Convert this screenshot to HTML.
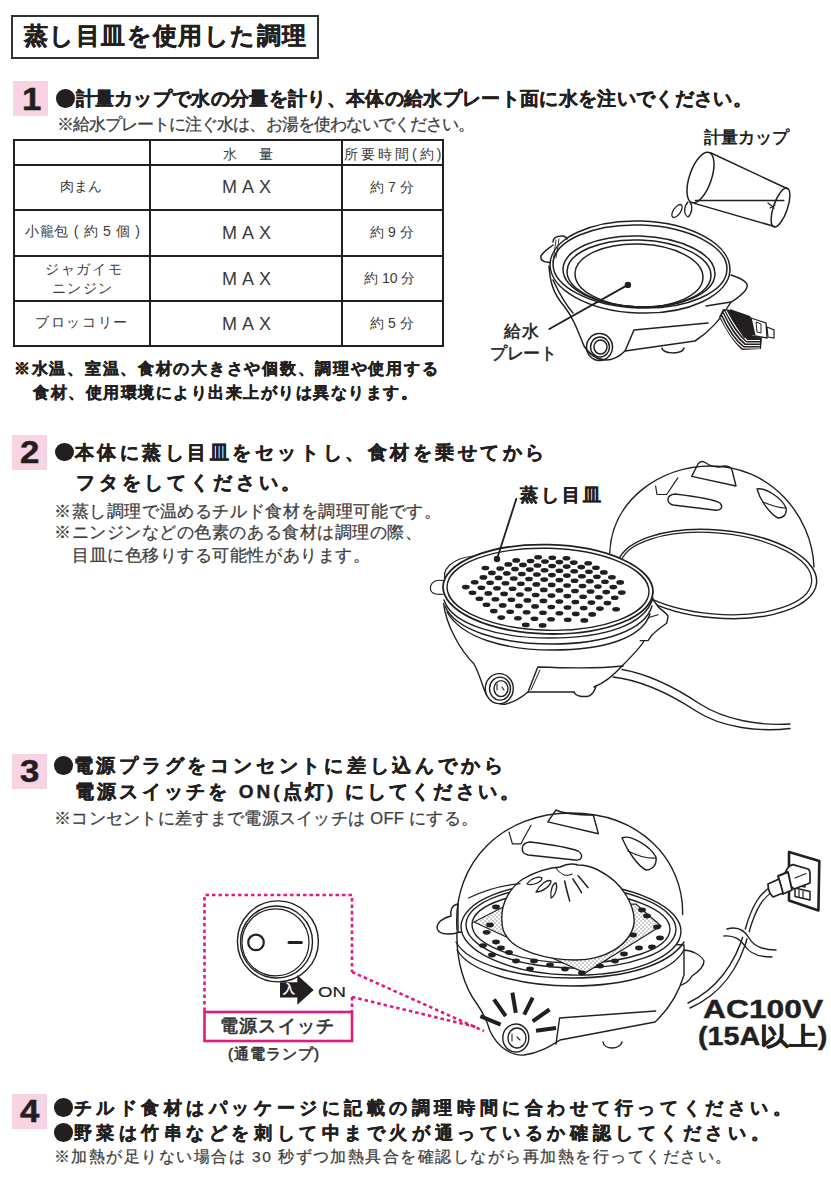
<!DOCTYPE html>
<html><head><meta charset="utf-8">
<style>
html,body{margin:0;padding:0;background:#fff;}
body{width:831px;height:1200px;position:relative;overflow:hidden;font-family:"Liberation Sans",sans-serif;color:#231f20;}
.a{position:absolute;white-space:nowrap;line-height:1;}
.b{font-weight:bold;-webkit-text-stroke:0.4px #231f20;}
.pk{position:absolute;width:35px;height:35px;background:#f8d3e4;}
.num{position:absolute;font-weight:bold;font-size:31px;line-height:1;transform:scaleX(1.12);transform-origin:0 0;-webkit-text-stroke:0.5px #231f20;}
.note{color:#3d3d3d;font-size:16.5px;-webkit-text-stroke:0.25px #3d3d3d;}
.dot{display:inline-block;width:18.5px;height:18.5px;border-radius:50%;background:#231f20;vertical-align:-2.5px;margin-right:1px;}
.tb{position:absolute;background:#231f20;}
.c{position:absolute;white-space:nowrap;line-height:1;color:#3a3a3a;font-size:14px;text-align:center;}
</style></head><body>
<!-- title -->
<div style="position:absolute;left:11px;top:15px;width:304px;height:40px;border:2px solid #333;"></div>
<div class="a b" id="t0" style="left:24px;top:24px;font-size:24px;letter-spacing:1.4px;">蒸し目皿を使用した調理</div>

<!-- step1 -->
<div class="pk" style="left:13px;top:81px;"></div>
<div class="num" style="left:22px;top:83.5px;">1</div>
<div class="a b" id="s1a" style="left:56px;top:89px;font-size:19px;letter-spacing:0.33px;"><span class="dot"></span>計量カップで水の分量を計り、本体の給水プレート面に水を注いでください。</div>
<div class="a note" id="s1n" style="left:57px;top:116px;letter-spacing:-0.96px;">※給水プレートに注ぐ水は、お湯を使わないでください。</div>

<!-- table -->
<div class="tb" style="left:13px;top:139px;width:431px;height:2px;"></div>
<div class="tb" style="left:13px;top:164px;width:431px;height:2px;"></div>
<div class="tb" style="left:13px;top:209px;width:431px;height:2px;"></div>
<div class="tb" style="left:13px;top:255px;width:431px;height:2px;"></div>
<div class="tb" style="left:13px;top:300px;width:431px;height:2px;"></div>
<div class="tb" style="left:13px;top:345px;width:431px;height:2px;"></div>
<div class="tb" style="left:13px;top:139px;width:2px;height:208px;"></div>
<div class="tb" style="left:149px;top:139px;width:2px;height:208px;"></div>
<div class="tb" style="left:341px;top:139px;width:2px;height:208px;"></div>
<div class="tb" style="left:442px;top:139px;width:2px;height:208px;"></div>

<div class="a c" id="tw" style="left:223px;top:147px;letter-spacing:4px;">水　量</div>
<div class="a c" id="tt" style="left:344px;top:147px;letter-spacing:3px;">所要時間(約)</div>

<div class="a c" style="left:60px;top:179px;">肉まん</div>
<div class="a c" style="left:25px;top:224px;letter-spacing:0.7px;">小籠包 ( 約 5 個 )</div>
<div class="a c" style="left:45px;top:262px;letter-spacing:1.7px;">ジャガイモ</div>
<div class="a c" style="left:52px;top:281px;letter-spacing:1.4px;">ニンジン</div>
<div class="a c" style="left:35px;top:315px;letter-spacing:1.7px;">ブロッコリー</div>

<div class="a c" style="left:222px;top:178px;font-size:18px;letter-spacing:5px;">MAX</div>
<div class="a c" style="left:222px;top:224px;font-size:18px;letter-spacing:5px;">MAX</div>
<div class="a c" style="left:222px;top:270px;font-size:18px;letter-spacing:5px;">MAX</div>
<div class="a c" style="left:222px;top:315px;font-size:18px;letter-spacing:5px;">MAX</div>

<div class="a c" style="left:370px;top:180px;">約 7 分</div>
<div class="a c" style="left:370px;top:225px;">約 9 分</div>
<div class="a c" style="left:364px;top:271px;">約 10 分</div>
<div class="a c" style="left:370px;top:316px;">約 5 分</div>

<div class="a b" id="n1" style="left:14px;top:361px;font-size:16px;letter-spacing:1.72px;">※水温、室温、食材の大きさや個数、調理や使用する</div>
<div class="a b" id="n2" style="left:33px;top:385px;font-size:16px;letter-spacing:1.5px;">食材、使用環境により出来上がりは異なります。</div>


<!-- illus1 -->
<svg style="position:absolute;left:0;top:0" width="831" height="1200" viewBox="0 0 831 1200">
<g fill="none" stroke="#231f20" stroke-width="1.5" stroke-linecap="round" stroke-linejoin="round">
 <!-- cup -->
 <ellipse cx="700.5" cy="177.5" rx="11" ry="26.5" transform="rotate(19 700.5 177.5)"/>
 <ellipse cx="780.5" cy="207.5" rx="7" ry="20.5" transform="rotate(19 780.5 207.5)"/>
 <path d="M710.5,152.8 L788,189 M694.5,203.4 L774.6,226.5 M695.4,200.5 L783.8,200.5"/>
 <path d="M768,203 l6,5 M770,208 l5,-3" stroke-width="1.2"/>
 <ellipse cx="677" cy="211" rx="3.5" ry="7.5" transform="rotate(35 677 211)" stroke-width="1.3"/>
 <path d="M688,202 C684,206 683,214 688,217 C692,214 693,206 690,202" stroke-width="1.3"/>
 <!-- pot rims -->
 <ellipse cx="640" cy="267" rx="90" ry="46" transform="rotate(2 640 267)"/>
 <ellipse cx="640" cy="266.5" rx="87" ry="41.5" transform="rotate(2 640 266.5)"/>
 <ellipse cx="639" cy="271.5" rx="76" ry="35.5" transform="rotate(2 639 271.5)"/>
 <ellipse cx="639" cy="273.5" rx="72" ry="33.5" transform="rotate(2 639 273.5)"/>
 <ellipse cx="639" cy="275.5" rx="64" ry="31.5" transform="rotate(2 639 275.5)"/>
 <!-- handles -->
 <path d="M553,242 C553,238 557,236 562,236 C565,236 567,238 567,239 M553,245 C548,249 543,252 541,256 C540,260 543,262 550,262.5"/>
 <path d="M556,240 L553,262 M559,239 L556,258" stroke-width="0.9"/>
 <path d="M731,275 C737,277 745,280 747,284 C748,288 746,290 744,292 C740,296 735,300 731,302 L706,306"/>
 <!-- body -->
 <path d="M549,266 C550,280 552,292 564,306 C572,316 576,326 584,346 C590,355 598,360 606,360 C614,360 620,356 625,351 L695,341 C712,330 722,318 731,302"/>
 <path d="M553,280 C560,295 566,305 573,313"/>
 <path d="M625,351 L634,330 L708,323"/>
 <path d="M662,348 C662,354 682,355 684,348"/>
 <!-- switch -->
 <ellipse cx="599.5" cy="347" rx="13" ry="13.5"/>
 <ellipse cx="600" cy="347" rx="9.5" ry="10"/>
 <ellipse cx="600.5" cy="347" rx="6.5" ry="7"/>
 <!-- leader -->
 <path d="M549.3,329 L627.9,284.9" stroke-width="1.8"/>
 <!-- cord -->
</g>
<path d="M719,317 L723,309 L731,310 L748,334 L762,338 L761,349 L742,350 C733,342 726,330 719,317 Z" fill="#231f20"/>
<g fill="none" stroke="#fff" stroke-width="1.1">
 <path d="M721,317 C727,330 734,341 743,348 L760,348"/>
 <path d="M722.5,314 C728.5,327 735.5,339 744.5,345.5 L760,345.5"/>
 <path d="M724,311.5 C730,324 737,336 746,343 L760,343"/>
 <path d="M726,310.5 C732,322 739,333 747,340.5 L760,340.5"/>
</g>
<g>
<circle cx="627.9" cy="284.9" r="3.2" fill="#231f20"/>
<path d="M730,309 L750,316 L757,334 L744,338 C738,330 734,320 730,309 Z" fill="#231f20"/>
<path d="M751,318 L766,323 L767,338 L755,336 Z" fill="#fff" stroke="#231f20" stroke-width="1.3"/>
<path d="M756,322 L761,324 L761,333 L757,332 Z" fill="#fff" stroke="#231f20" stroke-width="1"/>
<path d="M767,327 L774,330 L774,338 L768,337 Z" fill="#fff" stroke="#231f20" stroke-width="1.2"/>
</svg>
<div class="a" id="lbl_cup" style="left:704px;top:129px;font-size:17px;font-weight:bold;">計量カップ</div>
<div class="a" id="lbl_k1" style="left:504px;top:323px;font-size:17px;letter-spacing:1px;-webkit-text-stroke:0.5px #231f20;">給水</div>
<div class="a" id="lbl_k2" style="left:490px;top:345px;font-size:17px;letter-spacing:-0.5px;-webkit-text-stroke:0.5px #231f20;">プレート</div>

<!-- step2 -->
<div class="pk" style="left:12px;top:435px;"></div>
<div class="num" style="left:20px;top:437.3px;">2</div>
<div class="a b" id="s2a" style="left:55px;top:442.5px;font-size:19px;letter-spacing:3.55px;"><span class="dot"></span>本体に蒸し目皿をセットし、食材を乗せてから</div>
<div class="a b" id="s2b" style="left:76px;top:473px;font-size:19px;letter-spacing:3.83px;">フタをしてください。</div>
<div class="a note" id="s2n1" style="left:54px;top:503px;letter-spacing:0.61px;">※蒸し調理で温めるチルド食材を調理可能です。</div>
<div class="a note" id="s2n2" style="left:54px;top:524px;letter-spacing:0.55px;">※ニンジンなどの色素のある食材は調理の際、</div>
<div class="a note" id="s2n3" style="left:72px;top:547px;letter-spacing:0.55px;">目皿に色移りする可能性があります。</div>


<!-- illus2 -->
<svg style="position:absolute;left:0;top:0" width="831" height="1200" viewBox="0 0 831 1200">
<g fill="none" stroke="#231f20" stroke-width="1.4" stroke-linecap="round" stroke-linejoin="round">
 <!-- lid -->
 <path d="M609.7,553 C612,500 660,466 711,466 C770,466 812,515 814,567"/>
 <ellipse cx="717" cy="574" rx="100" ry="44" transform="rotate(5 717 574)" stroke-width="1.5"/>
 <ellipse cx="716" cy="573.5" rx="96" ry="40.5" transform="rotate(5 716 573.5)" stroke-width="1.2"/>
 <path d="M691.7,476.4 L698,464 C700,461 703,461 706,463 C712,467 718,468 724,466 C728,466 731,467 732,470 L736,486 Z"/>
 <path d="M675,494 C700,497 715,500 720,503 C724,508 720,511 714,510 L673,505 C666,503 666,495 675,494 Z"/>
 <path d="M655.6,486 L657,494.5 L666.7,494.5 M666.7,494.5 L677.8,477.8" stroke-width="1.2"/>
 <path d="M757,489 C765,487 782,498 786,508 C787,514 784,518 778,518 C770,514 760,500 757,489 Z"/>
 <path d="M763,502 C770,505 780,508 786,508" stroke-width="1.2"/>
 <!-- cord -->
 <path d="M622,669.5 C648,674 676,688 700,704 C725,720 760,726 790,724"/>
 <path d="M613,677 C640,680 670,694 696,711 C722,728 760,732 790,728.5"/>
</g>
<g fill="#fff" stroke="#231f20" stroke-width="1.4" stroke-linecap="round" stroke-linejoin="round">
 <!-- handles -->
 <path d="M652,598.8 C655,602 657,605 658.7,607.4 C662,610 666,613 668,616 C668,619 667,621 666.6,623.3 C660,628 655,632 652,635 L648,640.6 L622,640.6 Z"/>
 <path d="M622,623.3 C635,621 648,618 658,614.7" fill="none" stroke-width="1.2"/>
 <path d="M447,580 C441,570 452,558 474,556 L470,572 Z" stroke="none"/>
 <path d="M446,582 C440,570 452,558 474,556" fill="none" stroke-width="1.2"/>
 <path d="M445,581 C433,578 430,585 430.5,589 C431,594 437,595 445,594" stroke-width="1.2"/>
 <!-- body -->
 <path d="M443.6,603.4 C446,625 460,650 474,664 C480,675 482,685 486,694 C492,702 500,705 506,704 C515,702 522,697 528,692 L574,692 L594,687 C605,683 613,676 623,665 C633,655 640,648 653,600 Z" stroke="none"/>
 <path d="M443.6,603.4 C446,625 460,650 474,664 C480,675 482,685 486,694 C492,702 500,705 506,704 C515,702 522,697 528,692 L574,692 M594,687 C605,683 613,676 623,665 C633,655 640,648 644,641" fill="none"/>
 <path d="M444,600 C452,625 500,638 550,638 C605,638 645,625 653,598" fill="none"/>
 <path d="M445,606 C455,630 500,644 552,644 C605,644 645,630 652,606" fill="none"/>
 <path d="M447,612 C462,638 505,650 552,650 C605,650 642,638 650,614" fill="none"/>
 <path d="M528,692 L537.8,667 C565,668 595,669 623,666" fill="none"/>
 <path d="M531,690 L540,670" fill="none" stroke-width="1"/>
 <path d="M574,692 C576,697 584,697 589,696 C593,694 595,690 596,686" fill="none"/>
 <ellipse cx="499.3" cy="688.6" rx="14" ry="15"/>
 <ellipse cx="500" cy="688.6" rx="10.5" ry="11.5"/>
 <ellipse cx="501" cy="688.6" rx="7" ry="8"/>
 <path d="M497,684 l0,6 M502,687 l2,3" stroke-width="1.1"/>
<!-- steamer rim/plate -->
 <ellipse cx="548" cy="589.3" rx="105" ry="44.6" transform="rotate(1.5 548 589.3)" stroke-width="1.8"/>
 <ellipse cx="548" cy="589.3" rx="101" ry="41" transform="rotate(1.5 548 589.3)" fill="none"/>
</g>
<g fill="none" stroke="#231f20" stroke-width="1.8" stroke-linecap="round">
 <path d="M516.3,498.9 L497,559"/>
</g>
<circle cx="497" cy="559" r="3.2" fill="#231f20"/>
<g fill="#231f20"><ellipse cx="538.1" cy="557.2" rx="3.9" ry="2.3"/><ellipse cx="552.3" cy="557.8" rx="3.9" ry="2.3"/><ellipse cx="566.5" cy="558.3" rx="3.9" ry="2.3"/><ellipse cx="516.2" cy="560.4" rx="3.9" ry="2.3"/><ellipse cx="530.6" cy="561.0" rx="3.9" ry="2.3"/><ellipse cx="545.0" cy="561.5" rx="3.9" ry="2.3"/><ellipse cx="559.4" cy="562.1" rx="3.9" ry="2.3"/><ellipse cx="573.8" cy="562.6" rx="3.9" ry="2.3"/><ellipse cx="588.2" cy="563.2" rx="3.9" ry="2.3"/><ellipse cx="508.3" cy="564.4" rx="3.9" ry="2.3"/><ellipse cx="522.9" cy="564.9" rx="3.9" ry="2.3"/><ellipse cx="537.5" cy="565.5" rx="3.9" ry="2.3"/><ellipse cx="552.1" cy="566.0" rx="3.9" ry="2.3"/><ellipse cx="566.7" cy="566.6" rx="3.9" ry="2.3"/><ellipse cx="581.3" cy="567.1" rx="3.9" ry="2.3"/><ellipse cx="595.9" cy="567.7" rx="3.9" ry="2.3"/><ellipse cx="485.4" cy="568.0" rx="3.9" ry="2.3"/><ellipse cx="500.2" cy="568.5" rx="3.9" ry="2.3"/><ellipse cx="515.0" cy="569.1" rx="3.9" ry="2.3"/><ellipse cx="529.8" cy="569.6" rx="3.9" ry="2.3"/><ellipse cx="544.6" cy="570.2" rx="3.9" ry="2.3"/><ellipse cx="559.4" cy="570.7" rx="3.9" ry="2.3"/><ellipse cx="574.2" cy="571.3" rx="3.9" ry="2.3"/><ellipse cx="589.0" cy="571.8" rx="3.9" ry="2.3"/><ellipse cx="603.8" cy="572.4" rx="3.9" ry="2.3"/><ellipse cx="491.9" cy="572.9" rx="3.9" ry="2.3"/><ellipse cx="506.9" cy="573.4" rx="3.9" ry="2.3"/><ellipse cx="521.9" cy="574.0" rx="3.9" ry="2.3"/><ellipse cx="536.9" cy="574.5" rx="3.9" ry="2.3"/><ellipse cx="551.9" cy="575.1" rx="3.9" ry="2.3"/><ellipse cx="566.9" cy="575.6" rx="3.9" ry="2.3"/><ellipse cx="581.9" cy="576.2" rx="3.9" ry="2.3"/><ellipse cx="596.9" cy="576.7" rx="3.9" ry="2.3"/><ellipse cx="611.9" cy="577.3" rx="3.9" ry="2.3"/><ellipse cx="483.4" cy="577.4" rx="3.9" ry="2.3"/><ellipse cx="498.6" cy="577.9" rx="3.9" ry="2.3"/><ellipse cx="513.8" cy="578.5" rx="3.9" ry="2.3"/><ellipse cx="529.0" cy="579.0" rx="3.9" ry="2.3"/><ellipse cx="544.2" cy="579.6" rx="3.9" ry="2.3"/><ellipse cx="559.4" cy="580.1" rx="3.9" ry="2.3"/><ellipse cx="574.6" cy="580.7" rx="3.9" ry="2.3"/><ellipse cx="589.8" cy="581.2" rx="3.9" ry="2.3"/><ellipse cx="605.0" cy="581.8" rx="3.9" ry="2.3"/><ellipse cx="620.2" cy="582.4" rx="3.9" ry="2.3"/><ellipse cx="474.7" cy="582.2" rx="3.9" ry="2.3"/><ellipse cx="490.1" cy="582.7" rx="3.9" ry="2.3"/><ellipse cx="505.5" cy="583.2" rx="3.9" ry="2.3"/><ellipse cx="520.9" cy="583.8" rx="3.9" ry="2.3"/><ellipse cx="536.3" cy="584.4" rx="3.9" ry="2.3"/><ellipse cx="551.7" cy="584.9" rx="3.9" ry="2.3"/><ellipse cx="567.1" cy="585.5" rx="3.9" ry="2.3"/><ellipse cx="582.5" cy="586.0" rx="3.9" ry="2.3"/><ellipse cx="597.9" cy="586.6" rx="3.9" ry="2.3"/><ellipse cx="613.3" cy="587.1" rx="3.9" ry="2.3"/><ellipse cx="465.8" cy="587.1" rx="3.9" ry="2.3"/><ellipse cx="481.4" cy="587.7" rx="3.9" ry="2.3"/><ellipse cx="497.0" cy="588.2" rx="3.9" ry="2.3"/><ellipse cx="512.6" cy="588.8" rx="3.9" ry="2.3"/><ellipse cx="528.2" cy="589.3" rx="3.9" ry="2.3"/><ellipse cx="543.8" cy="589.9" rx="3.9" ry="2.3"/><ellipse cx="559.4" cy="590.4" rx="3.9" ry="2.3"/><ellipse cx="575.0" cy="591.0" rx="3.9" ry="2.3"/><ellipse cx="590.6" cy="591.5" rx="3.9" ry="2.3"/><ellipse cx="606.2" cy="592.1" rx="3.9" ry="2.3"/><ellipse cx="621.8" cy="592.6" rx="3.9" ry="2.3"/><ellipse cx="472.5" cy="592.8" rx="3.9" ry="2.3"/><ellipse cx="488.3" cy="593.4" rx="3.9" ry="2.3"/><ellipse cx="504.1" cy="593.9" rx="3.9" ry="2.3"/><ellipse cx="519.9" cy="594.5" rx="3.9" ry="2.3"/><ellipse cx="535.7" cy="595.0" rx="3.9" ry="2.3"/><ellipse cx="551.5" cy="595.6" rx="3.9" ry="2.3"/><ellipse cx="567.3" cy="596.1" rx="3.9" ry="2.3"/><ellipse cx="583.1" cy="596.7" rx="3.9" ry="2.3"/><ellipse cx="598.9" cy="597.2" rx="3.9" ry="2.3"/><ellipse cx="614.7" cy="597.8" rx="3.9" ry="2.3"/><ellipse cx="479.4" cy="598.7" rx="3.9" ry="2.3"/><ellipse cx="495.4" cy="599.3" rx="3.9" ry="2.3"/><ellipse cx="511.4" cy="599.8" rx="3.9" ry="2.3"/><ellipse cx="527.4" cy="600.4" rx="3.9" ry="2.3"/><ellipse cx="543.4" cy="600.9" rx="3.9" ry="2.3"/><ellipse cx="559.4" cy="601.5" rx="3.9" ry="2.3"/><ellipse cx="575.4" cy="602.0" rx="3.9" ry="2.3"/><ellipse cx="591.4" cy="602.6" rx="3.9" ry="2.3"/><ellipse cx="607.4" cy="603.1" rx="3.9" ry="2.3"/><ellipse cx="486.5" cy="604.8" rx="3.9" ry="2.3"/><ellipse cx="502.7" cy="605.4" rx="3.9" ry="2.3"/><ellipse cx="518.9" cy="605.9" rx="3.9" ry="2.3"/><ellipse cx="535.1" cy="606.4" rx="3.9" ry="2.3"/><ellipse cx="551.3" cy="607.0" rx="3.9" ry="2.3"/><ellipse cx="567.5" cy="607.5" rx="3.9" ry="2.3"/><ellipse cx="583.7" cy="608.1" rx="3.9" ry="2.3"/><ellipse cx="599.9" cy="608.6" rx="3.9" ry="2.3"/><ellipse cx="616.1" cy="609.2" rx="3.9" ry="2.3"/><ellipse cx="493.8" cy="611.1" rx="3.9" ry="2.3"/><ellipse cx="510.2" cy="611.7" rx="3.9" ry="2.3"/><ellipse cx="526.6" cy="612.2" rx="3.9" ry="2.3"/><ellipse cx="543.0" cy="612.8" rx="3.9" ry="2.3"/><ellipse cx="559.4" cy="613.3" rx="3.9" ry="2.3"/><ellipse cx="575.8" cy="613.9" rx="3.9" ry="2.3"/><ellipse cx="592.2" cy="614.4" rx="3.9" ry="2.3"/><ellipse cx="501.3" cy="617.6" rx="3.9" ry="2.3"/><ellipse cx="517.9" cy="618.2" rx="3.9" ry="2.3"/><ellipse cx="534.5" cy="618.7" rx="3.9" ry="2.3"/><ellipse cx="551.1" cy="619.2" rx="3.9" ry="2.3"/><ellipse cx="567.7" cy="619.8" rx="3.9" ry="2.3"/><ellipse cx="584.3" cy="620.4" rx="3.9" ry="2.3"/><ellipse cx="525.8" cy="624.9" rx="3.9" ry="2.3"/><ellipse cx="542.6" cy="625.4" rx="3.9" ry="2.3"/></g>
</svg>
<div class="a b" id="lbl_mushi" style="left:520px;top:486px;font-size:18px;letter-spacing:3px;">蒸し目皿</div>

<!-- step3 -->
<div class="pk" style="left:12px;top:754px;"></div>
<div class="num" style="left:20px;top:756.3px;">3</div>
<div class="a b" id="s3a" style="left:54px;top:756px;font-size:19px;letter-spacing:3.78px;"><span class="dot"></span>電源プラグをコンセントに差し込んでから</div>
<div class="a b" id="s3b" style="left:75px;top:782px;font-size:19px;letter-spacing:3.2px;">電源スイッチを<span style="letter-spacing:3px"> ON(</span>点灯<span style="letter-spacing:3px">) </span>にしてください。</div>
<div class="a note" id="s3n" style="left:54px;top:810px;letter-spacing:0.3px;">※コンセントに差すまで電源スイッチは OFF にする。</div>


<!-- illus3 -->
<svg style="position:absolute;left:0;top:0" width="831" height="1200" viewBox="0 0 831 1200">
<defs>
 <pattern id="pp" width="4" height="4" patternUnits="userSpaceOnUse">
  <rect width="4" height="4" fill="#fff"/>
  <circle cx="1" cy="1" r="0.9" fill="#b8b8b8"/><circle cx="3" cy="3" r="0.9" fill="#b8b8b8"/>
 </pattern>
</defs>
<g fill="none" stroke="#231f20" stroke-width="1.4" stroke-linecap="round" stroke-linejoin="round">
 <!-- cord -->
 <path d="M688,1003 C715,990 735,965 745,930 C752,905 760,893 772,886"/>
 <path d="M690,1008 C720,995 740,968 749,932 C756,908 763,897 775,890"/>
 <!-- break -->
 <path d="M728,931 C735,925 748,928 752,936 C756,945 766,950 777,950" fill="#fff" stroke="none"/>
 <path d="M727,929 C738,926 745,931 749,938 C754,947 764,950 776,950"/>
 <path d="M724,936 C735,935 741,940 745,946 C750,954 760,957 772,957"/>
 <!-- outlet -->
 <path d="M789,852 L819.3,861 L818.4,910.5 L789,900.5 Z" stroke-width="2.6"/>
 <path d="M794,874 L806,877 L805,887 L793,884 Z M797,876 L797,885 M801,877 L801,886" stroke-width="1.3"/>
 <!-- plug -->
 <path d="M795,888 L810,891.5 L810,900 L795,896.5 Z" stroke-width="1.5"/>
 <path d="M799,890 L799,897.5 M803,891 L803,898.5" stroke-width="1.2"/>
 <path d="M785,873 C787,868 790,865 793,864.6 L808,869 C810,870 810,872 810,874 L810,883 L794,889 C790,886 786,880 785,873 Z" fill="#fff" stroke-width="1.7"/>
 <path d="M795,878 L806,873.5" stroke-width="1.2"/>
 <path d="M778,876 L788,872 L792,890 L783,894 Z" fill="#fff" stroke-width="1.9"/>
 <path d="M768,884 L779,879 L783,893 L773,897 C770,894 768,889 768,884 Z" fill="#fff" stroke-width="1.7"/>
</g>
<g fill="#fff" stroke="#231f20" stroke-width="1.4" stroke-linecap="round" stroke-linejoin="round">
 <!-- handles -->
 <path d="M682,950 C692,950 701,955 704,961 C704,966 698,972 692,976 C690,980 686,984 678,986 Z"/>
 <path d="M458,904 C452,905 450,910 451,916 C444,918 437,922 437,928 C438,934 446,935 458,933 Z"/>
 <!-- body -->
 <path d="M457,932 C456,962 465,988 477,1004 C484,1014 488,1024 490,1031 C498,1048 512,1056 524,1055 C540,1053 552,1045 560,1040 L655,1022 C668,1010 678,995 684,975 L684,945 Z"/>
 <path d="M556,1044 L559.6,1018 L655.6,1011" fill="none"/>
 <path d="M603,1042 C604,1050 620,1050 622,1042" fill="none"/>
 <path d="M457,950 C470,972 520,986 572,986 C628,986 672,972 684,950" fill="none"/>
 <path d="M456,942 C468,964 518,978 572,978 C628,978 670,964 684,942" fill="none"/>
 <!-- rim -->
 <ellipse cx="571" cy="929" rx="110" ry="46" transform="rotate(1.5 571 929)"/>
 <ellipse cx="571" cy="927" rx="105" ry="41" transform="rotate(1.5 571 927)" fill="none"/>
 <ellipse cx="571" cy="927" rx="99" ry="36" transform="rotate(1.5 571 927)" fill="none"/>
</g>
<!-- paper -->
<path d="M474,922 L505,906 L636,904 L661,926 L585,973 Z" fill="url(#pp)" stroke="#231f20" stroke-width="1.2"/>
<g fill="#231f20"><ellipse cx="496" cy="907" rx="3.9" ry="2.4"/><ellipse cx="486.6" cy="932.3" rx="3.9" ry="2.4"/><ellipse cx="483" cy="945.6" rx="3.9" ry="2.4"/><ellipse cx="496" cy="942" rx="3.9" ry="2.4"/><ellipse cx="501" cy="948" rx="3.9" ry="2.4"/><ellipse cx="509" cy="952.5" rx="3.9" ry="2.4"/><ellipse cx="516" cy="961" rx="3.9" ry="2.4"/><ellipse cx="534" cy="961" rx="3.9" ry="2.4"/><ellipse cx="550" cy="965" rx="3.9" ry="2.4"/><ellipse cx="565" cy="969" rx="3.9" ry="2.4"/><ellipse cx="600" cy="966" rx="3.9" ry="2.4"/><ellipse cx="615" cy="961" rx="3.9" ry="2.4"/><ellipse cx="624" cy="954" rx="3.9" ry="2.4"/><ellipse cx="639" cy="948" rx="3.9" ry="2.4"/><ellipse cx="652" cy="947" rx="3.9" ry="2.4"/><ellipse cx="642" cy="910" rx="3.9" ry="2.4"/><ellipse cx="647" cy="916" rx="3.9" ry="2.4"/><ellipse cx="657" cy="927" rx="3.9" ry="2.4"/><ellipse cx="660" cy="938" rx="3.9" ry="2.4"/><ellipse cx="490" cy="925" rx="3.9" ry="2.4"/><ellipse cx="492" cy="955" rx="3.9" ry="2.4"/><ellipse cx="530" cy="969" rx="3.9" ry="2.4"/><ellipse cx="582" cy="973" rx="3.9" ry="2.4"/><ellipse cx="633" cy="935" rx="3.9" ry="2.4"/></g>
<g fill="#fff" stroke="#231f20" stroke-width="1.4" stroke-linecap="round" stroke-linejoin="round">
 <!-- bun -->
 <path d="M502,922 C500,902 512,886 523,879 C535,872 548,868 560,867 C566,864 572,863 578,865 C584,865 590,866 598,870 C610,876 620,885 626,895 C632,905 635,915 634,924 C630,945 605,960 576,960 C545,960 515,950 507,937 C503,932 502,927 502,922 Z"/>
 <path d="M527,884 C531,878 539,876 542,878 C542,882 533,886 527,884 Z" fill="none" stroke-width="1.3"/>
 <path d="M536,892 C540,884 548,879 551,881 C551,886 542,892 536,892 Z" fill="none" stroke-width="1.3"/>
 <path d="M551,898 C550,890 553,883 556,883 C558,888 555,896 551,898 Z" fill="none" stroke-width="1.3"/>
 <path d="M564.7,881 C566,888 568,895 569.7,901 M573,879 C576,884 579,888 581.5,892.6 M578,875.8 C582,880 585,884 588,887.6" fill="none" stroke-width="1.5"/>
 <path d="M556,868 C560,874 566,877 572,874" fill="none" stroke-width="1.1"/>
</g>
<g fill="none" stroke="#231f20" stroke-width="1.4" stroke-linecap="round" stroke-linejoin="round">
 <!-- dome -->
 <path d="M457,930 C452,860 505,813 571,813 C640,813 684,860 682.6,914.6"/>
 <path d="M468.5,898 C485,890 505,885 520,883.6" stroke-width="1.2"/>
 <path d="M547.8,821.9 L556,810 C565,814 580,815 593.3,815 L598.4,833.7 Z"/>
 <path d="M530,842 C555,845 570,848 578,851 C584,855 582,861 575,860 L528,855 C520,853 520,843 530,842 Z"/>
 <path d="M509,832 L512.4,843.8 L520.9,843.8 M520.9,843.8 L531,825.3" stroke-width="1.2"/>
 <path d="M622,838 C630,834 650,846 656,857 C657,864 653,870 646,870 C638,866 628,852 622,838 Z"/>
 <path d="M628,851 C638,856 648,859 656,858" stroke-width="1.2"/>
 <!-- switch -->
 <ellipse cx="515.8" cy="1038" rx="13" ry="14" fill="#fff"/>
 <ellipse cx="517" cy="1038" rx="9" ry="10"/>
 <path d="M512,1034 l0,7 M517,1037 l3,3" stroke-width="1.1"/>
</g>
<g fill="none" stroke="#231f20" stroke-width="4" stroke-linecap="butt">
 <path d="M480.4,1016.2 L500.6,1024.7 M494,999.4 L505.7,1016.2 M512.4,992.7 L515.8,1012.9 M532.7,997.7 L524.2,1014.6 M549.5,1009.5 L532.7,1021.3 M556,1028 L536,1030.7"/>
</g>
<!-- switch box -->
<g fill="none" stroke="#e4197f" stroke-width="2.6">
 <path d="M204.5,1011 L204.5,895 L352,895 L352,972" stroke-dasharray="3.5 3"/>
 <path d="M352,997 L352,1011" stroke-dasharray="3.5 3"/>
 <path d="M352,972 L484,1031 M352,997 L476,1027" stroke-dasharray="3.5 3"/>
 <rect x="204.5" y="1012" width="147.5" height="29"/>
</g>
<g fill="none" stroke="#231f20" stroke-linecap="round">
 <circle cx="277.9" cy="941.4" r="40.5" stroke-width="1.4"/>
 <circle cx="276.5" cy="942" r="36" stroke-width="1.4"/>
 <circle cx="275.5" cy="942.4" r="33.5" stroke-width="1.2"/>
 <circle cx="256" cy="942.4" r="7.8" stroke-width="2.2"/>
 <path d="M289,942.4 L301.4,942.4" stroke-width="3"/>
</g>
<path d="M280,982.3 L297.3,982.3 L297.3,975 L313.7,990 L297.3,1004.8 L297.3,997.6 L280,997.6 Z" fill="#231f20"/>
</svg>
<div class="a" style="left:283px;top:983px;font-size:12px;color:#fff;font-weight:bold;">入</div>
<div class="a" id="lbl_on" style="left:318px;top:984px;font-size:15.5px;transform:scaleX(1.2);transform-origin:0 0;-webkit-text-stroke:0.2px #231f20;">ON</div>
<div class="a" id="lbl_sw" style="left:220px;top:1018px;font-size:17.5px;color:#333;-webkit-text-stroke:0.7px #333;letter-spacing:1.2px;">電源スイッチ</div>
<div class="a" id="lbl_sw2" style="left:228px;top:1046px;font-size:15px;color:#333;letter-spacing:1px;-webkit-text-stroke:0.6px #333;">(通電ランプ)</div>
<div class="a b" id="lbl_ac1" style="left:703px;top:996px;font-size:26.5px;letter-spacing:0px;transform:scaleX(1.2);transform-origin:0 0;">AC100V</div>
<div class="a b" id="lbl_ac2" style="left:698px;top:1024px;font-size:25px;letter-spacing:0px;transform:scaleX(1.15);transform-origin:0 0;">(15A以上)</div>

<!-- step4 -->
<div class="pk" style="left:12px;top:1094px;"></div>
<div class="num" style="left:20px;top:1096.3px;">4</div>
<div class="a b" id="s4a" style="left:54px;top:1098px;font-size:18px;letter-spacing:4.56px;"><span class="dot"></span>チルド食材はパッケージに記載の調理時間に合わせて行ってください。</div>
<div class="a b" id="s4b" style="left:54px;top:1123px;font-size:18px;letter-spacing:4.57px;"><span class="dot"></span>野菜は竹串などを刺して中まで火が通っているか確認してください。</div>
<div class="a note" id="s4n" style="left:54px;top:1149px;font-size:15.5px;letter-spacing:1.48px;">※加熱が足りない場合は 30 秒ずつ加熱具合を確認しながら再加熱を行ってください。</div>

</body></html>
